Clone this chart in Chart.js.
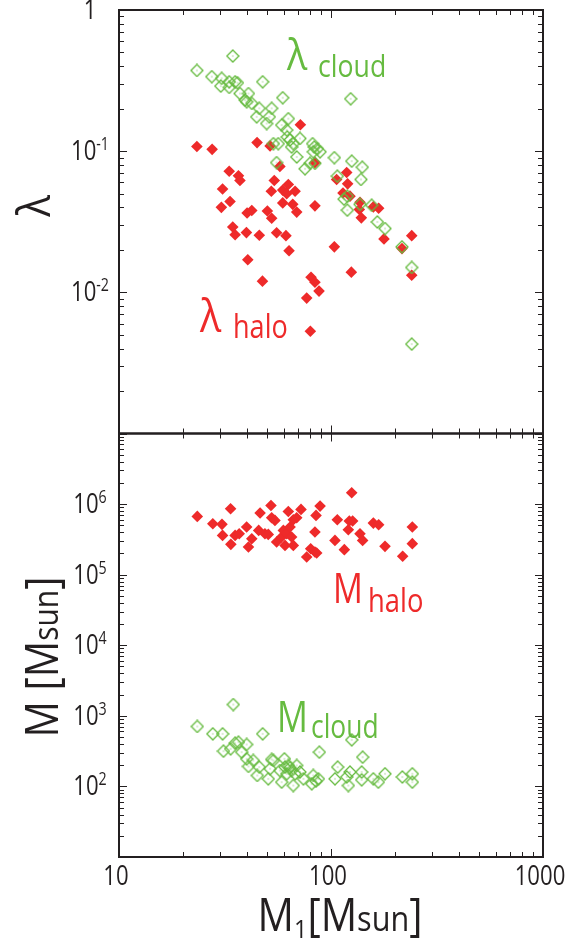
<!DOCTYPE html>
<html>
<head>
<meta charset="utf-8">
<script src="https://cdn.jsdelivr.net/npm/chart.js@4.4.1/dist/chart.umd.min.js"></script>
<style>
  html, body { margin: 0; padding: 0; background: #fff; }
  canvas { display: block; }
</style>
</head>
<body>
<canvas id="spin_mass" width="585" height="939"></canvas>
<script>
// each entry: [M1 (Msun), value]
var lambdaCloud = [
  [23.3, 0.373], [34.4, 0.472], [27.4, 0.337], [30.5, 0.328], [30.2, 0.289], [33.1, 0.283],
  [35.3, 0.310], [36.2, 0.305], [33.1, 0.310], [37.2, 0.256], [40.8, 0.256], [39.3, 0.230],
  [40.0, 0.224], [42.3, 0.218], [47.6, 0.310], [45.9, 0.201], [44.6, 0.175], [49.7, 0.157],
  [52.5, 0.201], [51.2, 0.175], [59.2, 0.239], [62.9, 0.170], [58.5, 0.153], [61.8, 0.141],
  [62.2, 0.126], [64.1, 0.120], [65.2, 0.107], [66.4, 0.113], [68.9, 0.091], [71.4, 0.123],
  [53.5, 0.113], [56.4, 0.113], [55.4, 0.083], [81.9, 0.113], [83.4, 0.107], [86.2, 0.104],
  [88.8, 0.099], [82.5, 0.099], [75.4, 0.075], [79.6, 0.082], [84.0, 0.082], [103.7, 0.090],
  [125.2, 0.085], [140.5, 0.077], [138.5, 0.063], [107.1, 0.0665], [115.2, 0.0457], [119.4, 0.048],
  [119.4, 0.0382], [137.0, 0.042], [155.5, 0.0414], [165.4, 0.0315], [179.8, 0.0283], [216.2, 0.021],
  [240.3, 0.015], [240.3, 0.0043], [123.8, 0.235]
];
var lambdaHalo = [
  [23.3, 0.108], [27.5, 0.103], [44.8, 0.115], [51.6, 0.109], [71.7, 0.154], [57.4, 0.078],
  [84.0, 0.083], [33.1, 0.072], [36.6, 0.067], [37.2, 0.062], [30.8, 0.054], [33.4, 0.044],
  [30.4, 0.040], [40.2, 0.0365], [42.3, 0.038], [50.1, 0.0377], [52.5, 0.0335], [54.0, 0.062],
  [52.3, 0.052], [59.2, 0.053], [62.9, 0.058], [67.7, 0.052], [61.8, 0.050], [59.2, 0.043],
  [66.0, 0.042], [68.9, 0.037], [84.0, 0.041], [34.4, 0.029], [35.3, 0.0256], [39.9, 0.0265],
  [45.9, 0.0254], [55.4, 0.0264], [61.3, 0.0252], [63.4, 0.0197], [40.5, 0.017], [47.5, 0.012],
  [80.5, 0.0128], [84.0, 0.0118], [87.8, 0.0102], [76.8, 0.0091], [79.9, 0.0053], [103.7, 0.021],
  [124.7, 0.0139], [118.6, 0.0706], [119.8, 0.0587], [106.3, 0.063], [113.9, 0.0506], [122.9, 0.048],
  [137.0, 0.0435], [136.0, 0.0386], [139.0, 0.0337], [158.4, 0.0403], [167.8, 0.0394], [177.8, 0.0239],
  [216.2, 0.0204], [240.3, 0.0252], [240.3, 0.0132]
];
var massHalo = [
  [23.4, 6.69e5], [27.7, 5.27e5], [30.6, 5.16e5], [33.6, 8.59e5], [30.8, 3.60e5], [33.7, 2.69e5],
  [35.3, 3.60e5], [36.9, 3.80e5], [40.0, 4.73e5], [40.8, 2.46e5], [42.3, 3.23e5], [46.3, 7.46e5],
  [45.6, 4.24e5], [48.8, 3.80e5], [50.6, 3.72e5], [52.1, 9.57e5], [52.5, 6.41e5], [54.4, 5.87e5],
  [55.4, 2.90e5], [58.5, 3.41e5], [59.6, 4.24e5], [60.7, 2.60e5], [61.8, 3.80e5], [62.9, 7.87e5],
  [64.1, 4.73e5], [65.2, 3.41e5], [66.4, 2.60e5], [68.9, 6.41e5], [66.4, 6.00e5], [72.2, 8.41e5],
  [76.8, 1.78e5], [80.2, 2.33e5], [84.0, 2.09e5], [85.6, 2.03e5], [84.0, 4.02e5], [85.0, 6.91e5],
  [88.8, 9.37e5], [104.4, 3.06e5], [107.1, 6.00e5], [115.6, 2.26e5], [120.7, 4.33e5], [122.0, 5.75e5],
  [126.5, 5.75e5], [125.2, 1.446e6], [137.0, 3.80e5], [141.0, 3.06e5], [158.4, 5.38e5], [167.8, 5.10e5],
  [179.8, 2.52e5], [217.8, 1.82e5], [241.9, 4.73e5], [241.9, 2.75e5]
];
var massCloud = [
  [23.4, 707], [34.6, 1446], [27.7, 556], [30.8, 556], [31.1, 316], [33.6, 341], [35.3, 410],
  [36.6, 424], [40.0, 393], [37.9, 306], [40.0, 246], [40.8, 192], [43.0, 233], [45.9, 188],
  [44.9, 143], [47.6, 556], [50.6, 128], [52.5, 241], [53.5, 233], [51.6, 178], [57.4, 168],
  [58.5, 115], [60.3, 246], [60.7, 188], [61.8, 151], [62.9, 198], [64.1, 184], [65.2, 168],
  [66.4, 103], [67.7, 151], [68.9, 198], [71.4, 160], [74.1, 128], [81.1, 109], [82.5, 143],
  [85.0, 119], [87.2, 128], [88.1, 306], [104.4, 128], [107.5, 188], [120.7, 103], [118.6, 136],
  [125.2, 457], [122.9, 160], [139.5, 160], [141.0, 260], [139.5, 124], [158.4, 128], [167.2, 115],
  [179.8, 151], [217.0, 136], [241.9, 151], [241.9, 115]
];

var m1Ticks = [10, 100, 1000];
var m1TickLabels = ['10', '100', '1000'];
var lambdaTicks = [0.01, 0.1, 1];
var lambdaTickLabels = [['10', '-2'], ['10', '-1'], ['1', '']];
var massTicks = [1e2, 1e3, 1e4, 1e5, 1e6];
var massTickLabels = [['10', '2'], ['10', '3'], ['10', '4'], ['10', '5'], ['10', '6']];

var RED = '#ee2a2a';
var GREEN = '#66bb40';
var INK = '#231f20';
var FONT = '"Open Sans", "Noto Sans", sans-serif';

function toXY(list) {
  return list.map(function(p) { return { x: p[0], y: p[1] }; });
}

// open diamond with a dot in the middle
function openDiamond() {
  var c = document.createElement('canvas');
  c.width = 14; c.height = 14;
  var g = c.getContext('2d');
  g.strokeStyle = GREEN;
  g.lineWidth = 1.3;
  g.beginPath();
  g.moveTo(7, 1); g.lineTo(13, 7); g.lineTo(7, 13); g.lineTo(1, 7); g.closePath();
  g.stroke();
  g.fillStyle = GREEN;
  g.fillRect(6.5, 6.5, 1, 1);
  return c;
}

// runs: [text, size, dy]
function drawRuns(ctx, runs, x, y, align, sx, color, rot) {
  ctx.save();
  ctx.translate(x, y);
  if (rot) ctx.rotate(rot);
  ctx.scale(sx, 1);
  ctx.fillStyle = color;
  ctx.textAlign = 'left';
  ctx.textBaseline = 'alphabetic';
  var w = 0;
  runs.forEach(function(r) {
    ctx.font = r[1] + 'px ' + FONT;
    w += ctx.measureText(r[0]).width;
  });
  var cx = align === 'center' ? -w / 2 : (align === 'right' ? -w : 0);
  runs.forEach(function(r) {
    ctx.font = r[1] + 'px ' + FONT;
    ctx.fillText(r[0], cx, r[2] || 0);
    cx += ctx.measureText(r[0]).width;
  });
  ctx.restore();
}

function logSteps(min, max) {
  var out = [];
  var e0 = Math.floor(Math.log10(min) + 1e-9);
  var e1 = Math.ceil(Math.log10(max) - 1e-9);
  for (var e = e0; e < e1; e++) {
    for (var k = 1; k <= 9; k++) {
      var v = k * Math.pow(10, e);
      if (v >= min * 0.999 && v <= max * 1.001) out.push({ v: v, major: k === 1 });
    }
  }
  return out;
}

var framePlugin = {
  id: 'framePlugin',
  afterDraw: function(chart) {
    var ctx = chart.ctx;
    var xs = chart.scales.x;
    var area = chart.chartArea;
    var panels = [chart.scales.yL, chart.scales.yM];

    ctx.save();
    ctx.strokeStyle = INK;
    panels.forEach(function(ys) {
      var top = ys.top, bottom = ys.bottom, left = area.left, right = area.right;
      ctx.lineWidth = 1;
      ctx.beginPath();
      logSteps(xs.min, xs.max).forEach(function(t) {
        var px = Math.round(xs.getPixelForValue(t.v)) + 0.5;
        var len = t.major ? 8 : 5;
        ctx.moveTo(px, bottom); ctx.lineTo(px, bottom - len);
        ctx.moveTo(px, top); ctx.lineTo(px, top + len);
      });
      logSteps(ys.min, ys.max).forEach(function(t) {
        var py = Math.round(ys.getPixelForValue(t.v)) + 0.5;
        var len = t.major ? 8 : 5;
        ctx.moveTo(left, py); ctx.lineTo(left + len, py);
        ctx.moveTo(right, py); ctx.lineTo(right - len, py);
      });
      ctx.stroke();
      ctx.lineWidth = 2;
      ctx.strokeRect(left, top, right - left, bottom - top);
    });
    ctx.restore();

    // tick labels
    m1Ticks.forEach(function(v, i) {
      drawRuns(ctx, [[m1TickLabels[i], 28]], xs.getPixelForValue(v) - 3, 885, 'center', 0.79, INK);
    });
    [[chart.scales.yL, lambdaTicks, lambdaTickLabels], [chart.scales.yM, massTicks, massTickLabels]].forEach(function(set) {
      set[1].forEach(function(v, i) {
        var lab = set[2][i];
        drawRuns(ctx, [[lab[0], 28], [lab[1], 18, -10]], 90, set[0].getPixelForValue(v) + 9, 'center', 0.79, INK);
      });
    });

    // axis titles
    drawRuns(ctx, [['M', 45], ['1', 26, 7], ['[', 45], ['M', 45], ['sun', 34], [']', 45]],
      340, 931, 'center', 0.9, INK);
    drawRuns(ctx, [['λ', 46]], 50, 206, 'center', 0.88, INK, -Math.PI / 2);
    drawRuns(ctx, [['M ', 46], ['[', 46], ['M', 46], ['sun', 34], [']', 46]],
      58, 657, 'center', 0.88, INK, -Math.PI / 2);

    // series names
    drawRuns(ctx, [['λ', 43]], 287, 70, 'left', 0.88, GREEN);
    drawRuns(ctx, [['cloud', 31]], 318, 77, 'left', 0.86, GREEN);
    drawRuns(ctx, [['λ', 45]], 200, 332, 'left', 0.88, RED);
    drawRuns(ctx, [['halo', 33]], 233, 338, 'left', 0.82, RED);
    drawRuns(ctx, [['M', 42]], 333, 603, 'left', 0.79, RED);
    drawRuns(ctx, [['halo', 33]], 368, 612, 'left', 0.83, RED);
    drawRuns(ctx, [['M', 44]], 277, 732, 'left', 0.78, GREEN);
    drawRuns(ctx, [['cloud', 33]], 311, 738, 'left', 0.8, GREEN);
  }
};

var cloudMarker = openDiamond();

function hiddenY(min, max, weight) {
  return {
    type: 'logarithmic',
    position: 'left',
    stack: 'panels',
    stackWeight: 1,
    weight: weight,
    min: min,
    max: max,
    grid: { display: false },
    border: { display: false },
    ticks: { display: false },
    afterFit: function(scale) { scale.width = 119; }
  };
}

new Chart(document.getElementById('spin_mass'), {
  type: 'scatter',
  data: {
    datasets: [
      { label: 'lambda cloud', data: toXY(lambdaCloud), yAxisID: 'yL', pointStyle: cloudMarker, pointRadius: 6 },
      { label: 'M cloud', data: toXY(massCloud), yAxisID: 'yM', pointStyle: cloudMarker, pointRadius: 6 },
      { label: 'lambda halo', data: toXY(lambdaHalo), yAxisID: 'yL', pointStyle: 'rectRot', pointRadius: 5.8,
        backgroundColor: RED, borderWidth: 0 },
      { label: 'M halo', data: toXY(massHalo), yAxisID: 'yM', pointStyle: 'rectRot', pointRadius: 5.8,
        backgroundColor: RED, borderWidth: 0 }
    ]
  },
  options: {
    responsive: false,
    animation: false,
    devicePixelRatio: 1,
    layout: { padding: { top: 10, right: 42, left: 0, bottom: 0 } },
    plugins: { legend: { display: false }, tooltip: { enabled: false } },
    scales: {
      x: {
        type: 'logarithmic',
        position: 'bottom',
        min: 10,
        max: 1000,
        grid: { display: false },
        border: { display: false },
        ticks: { display: false },
        afterFit: function(scale) { scale.height = 82; }
      },
      yM: hiddenY(10, 1e7, 0),
      yL: hiddenY(0.001, 1, 1)
    }
  },
  plugins: [framePlugin]
});
</script>
</body>
</html>
